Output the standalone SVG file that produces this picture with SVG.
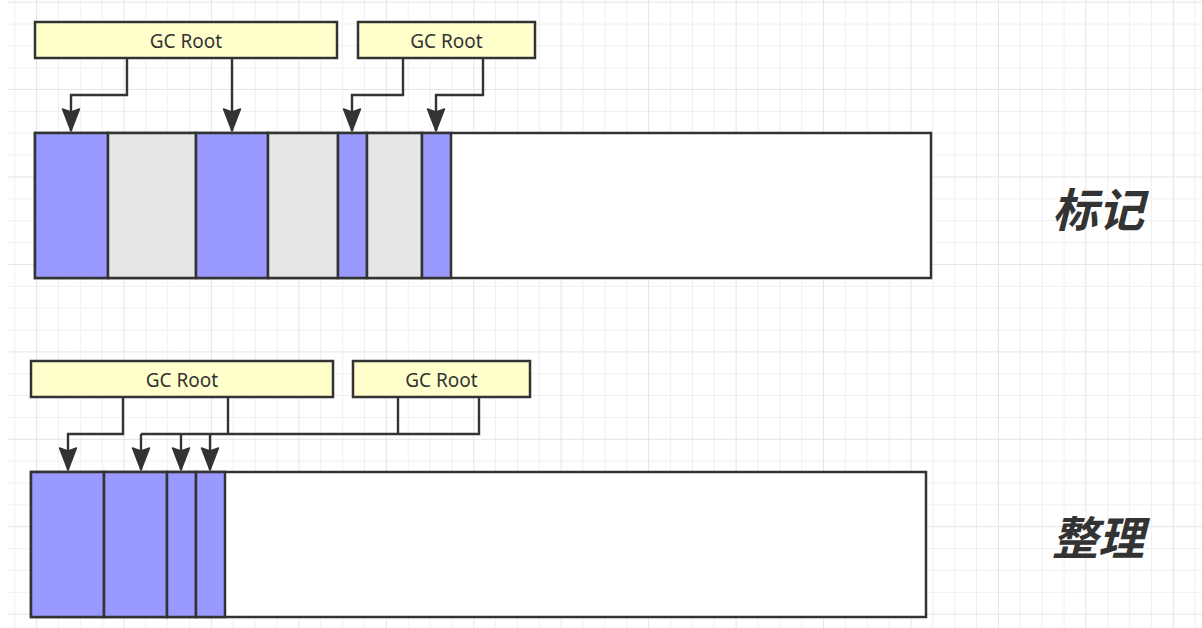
<svg xmlns="http://www.w3.org/2000/svg" width="1202" height="628" viewBox="0 0 1202 628">
<style>
.minor{stroke:#f0f0f0;stroke-width:1;fill:none}
.major{stroke:#e5e5e5;stroke-width:1;fill:none}
.box{stroke:#333;stroke-width:2.5}
.root{fill:#ffffcc}
.live{fill:#9999ff}
.dead{fill:#e6e6e6}
.free{fill:#ffffff}
.lbl{font-family:"Noto Sans","Open Sans",sans-serif;font-size:19px;fill:#333;text-anchor:middle}
.title{font-family:"Noto Sans CJK SC","Noto Sans",sans-serif;font-size:46px;font-weight:bold;font-style:italic;fill:#333;text-anchor:middle}
.edge{stroke:#333;stroke-width:2.4;fill:none;stroke-linejoin:miter}
</style>
<defs>
<marker id="arr" viewBox="-25 -10 26 20" refX="0" refY="0" markerWidth="26" markerHeight="20" markerUnits="userSpaceOnUse" orient="auto">
<path d="M0,0 L-22,-8.5 L-19,0 L-22,8.5 Z" fill="#333" stroke="#333" stroke-width="1.5" stroke-linejoin="round"/>
</marker>
</defs>
<rect x="0" y="0" width="1202" height="628" fill="#ffffff"/>
<g id="grid">
<path class="minor" d="M14.7 0V628M58.4 0V628M80.3 0V628M102.1 0V628M145.9 0V628M167.7 0V628M189.6 0V628M233.3 0V628M255.2 0V628M277 0V628M320.7 0V628M342.6 0V628M364.5 0V628M408.2 0V628M430 0V628M451.9 0V628M495.6 0V628M517.5 0V628M539.3 0V628M583.1 0V628M604.9 0V628M626.8 0V628M670.5 0V628M692.4 0V628M714.2 0V628M757.9 0V628M779.8 0V628M801.7 0V628M845.4 0V628M867.2 0V628M889.1 0V628M932.8 0V628M954.7 0V628M976.5 0V628M1020.3 0V628M1042.1 0V628M1064 0V628M1107.7 0V628M1129.6 0V628M1151.4 0V628M1195.1 0V628"/>
<path class="minor" d="M8 24H1202M8 45.8H1202M8 67.7H1202M8 111.4H1202M8 133.3H1202M8 155.1H1202M8 198.8H1202M8 220.7H1202M8 242.6H1202M8 286.3H1202M8 308.1H1202M8 330H1202M8 373.7H1202M8 395.6H1202M8 417.4H1202M8 461.2H1202M8 483H1202M8 504.9H1202M8 548.6H1202M8 570.5H1202M8 592.3H1202"/>
<path class="major" d="M36.6 0V628M124 0V628M211.4 0V628M298.9 0V628M386.3 0V628M473.8 0V628M561.2 0V628M648.6 0V628M736.1 0V628M823.5 0V628M911 0V628M998.4 0V628M1085.8 0V628M1173.3 0V628"/>
<path class="major" d="M8 2.1H1202M8 89.5H1202M8 177H1202M8 264.4H1202M8 351.9H1202M8 439.3H1202M8 526.7H1202M8 614.2H1202"/>
</g>
<g id="connectors">
<path class="edge" marker-end="url(#arr)" d="M127 58V95H71V131"/>
<path class="edge" marker-end="url(#arr)" d="M232 58V131"/>
<path class="edge" marker-end="url(#arr)" d="M403 58V95H352V131"/>
<path class="edge" marker-end="url(#arr)" d="M483 58V95H436V131"/>
<path class="edge" marker-end="url(#arr)" d="M123 397V434H68V470"/>
<path class="edge" d="M228 397V434M398 397V434M141 434H479V397"/>
<path class="edge" marker-end="url(#arr)" d="M141 434V470"/>
<path class="edge" marker-end="url(#arr)" d="M181 434V470"/>
<path class="edge" marker-end="url(#arr)" d="M210 434V470"/>
</g>
<g id="root1"><rect class="box root" x="35" y="22" width="302" height="36"/><text class="lbl" x="186" y="47.5">GC Root</text></g>
<g id="root2"><rect class="box root" x="358" y="22" width="177" height="36"/><text class="lbl" x="446.5" y="47.5">GC Root</text></g>
<g id="root3"><rect class="box root" x="31" y="361" width="302" height="36"/><text class="lbl" x="182" y="386.5">GC Root</text></g>
<g id="root4"><rect class="box root" x="353" y="361" width="177" height="36"/><text class="lbl" x="441.5" y="386.5">GC Root</text></g>
<g id="heap-mark">
<rect class="box free" x="35" y="133" width="896" height="145"/>
<rect class="box live" x="35" y="133" width="73" height="145"/>
<rect class="box dead" x="108" y="133" width="88" height="145"/>
<rect class="box live" x="196" y="133" width="72" height="145"/>
<rect class="box dead" x="268" y="133" width="70" height="145"/>
<rect class="box live" x="338" y="133" width="29" height="145"/>
<rect class="box dead" x="367" y="133" width="55" height="145"/>
<rect class="box live" x="422" y="133" width="29" height="145"/>
</g>
<g id="heap-compact">
<rect class="box free" x="31" y="472" width="895" height="145"/>
<rect class="box live" x="31" y="472" width="73" height="145"/>
<rect class="box live" x="104" y="472" width="63" height="145"/>
<rect class="box live" x="167" y="472" width="29" height="145"/>
<rect class="box live" x="196" y="472" width="29" height="145"/>
</g>
<g id="label-mark"><text class="title" x="1098" y="227">标记</text></g>
<g id="label-compact"><text class="title" x="1098" y="555">整理</text></g>
</svg>
